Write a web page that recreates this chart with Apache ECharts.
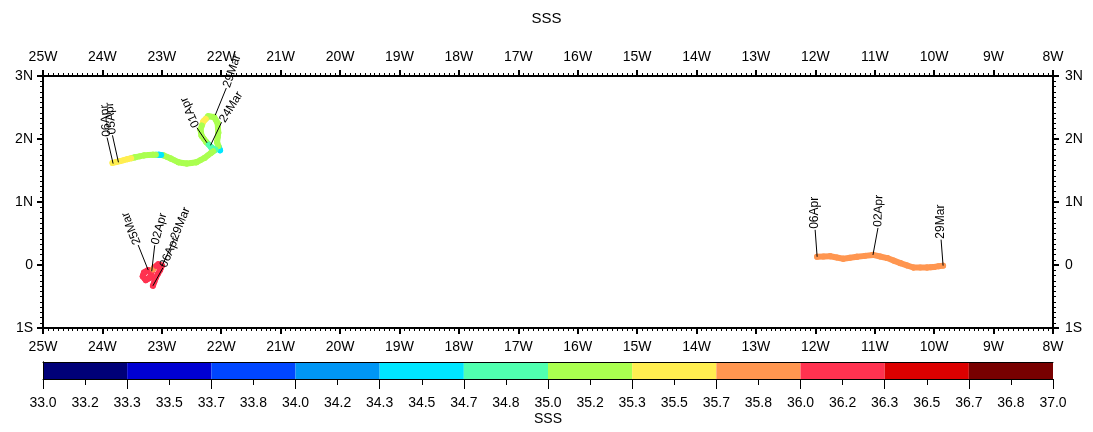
<!DOCTYPE html>
<html>
<head>
<meta charset="utf-8">
<script src="https://cdn.jsdelivr.net/npm/echarts@6/dist/echarts.min.js"></script>
<style>
  html, body { margin: 0; padding: 0; background: #fff; }
  #chart { width: 1093px; height: 432px; }
</style>
</head>
<body>
<div id="chart"></div>
<script>
const FONT = "'Liberation Sans', Arial, sans-serif";

// axis tick labels
const lonLabels = ['25W', '24W', '23W', '22W', '21W', '20W', '19W', '18W', '17W',
  '16W', '15W', '14W', '13W', '12W', '11W', '10W', '9W', '8W'];
const latLabels = ['1S', '0', '1N', '2N', '3N'];

// colour bar
const cbLabels = ['33.0', '33.2', '33.3', '33.5', '33.7', '33.8', '34.0', '34.2', '34.3',
  '34.5', '34.7', '34.8', '35.0', '35.2', '35.3', '35.5', '35.7', '35.8', '36.0', '36.2',
  '36.3', '36.5', '36.7', '36.8', '37.0'];
const cbColors = ['#000078', '#0000d2', '#0046ff', '#0096f5', '#00e6ff', '#50ffb0',
  '#aaff50', '#ffee50', '#ff9650', '#ff3250', '#dc0000', '#780000'];
const sssMin = 33, sssMax = 37;

// drifter near 22-24W, 2N
const trackALon = [-22.02, -22.07, -22.05, -22.06, -22.12, -22.22, -22.30, -22.35, -22.33,
  -22.25, -22.17, -22.10, -22.17, -22.28, -22.42, -22.58, -22.72, -22.85, -22.97, -23.05,
  -23.15, -23.30, -23.45, -23.58, -23.70, -23.83];
const trackALat = [1.82, 1.95, 2.10, 2.25, 2.35, 2.36, 2.28, 2.15, 2.05,
  1.95, 1.87, 1.83, 1.78, 1.70, 1.63, 1.61, 1.63, 1.69, 1.74, 1.75,
  1.75, 1.74, 1.71, 1.68, 1.65, 1.62];
const trackASss = [34.6, 35.1, 35.1, 35.1, 35.1, 35.1, 35.4, 35.1, 35.1,
  35.1, 34.9, 34.8, 35.1, 35.1, 35.1, 35.1, 35.1, 35.1, 35.1, 34.5,
  35.1, 35.1, 35.1, 35.4, 35.4, 35.4];

// drifter near 23W, 0
const trackBLon = [-23.23, -23.30, -23.32, -23.27, -23.20, -23.17, -23.13, -23.06, -23.00,
  -23.03, -23.10, -23.15];
const trackBLat = [-0.08, -0.12, -0.18, -0.24, -0.20, -0.10, -0.04, 0.01, -0.01,
  -0.08, -0.20, -0.33];
const trackBSss = [36.1, 36.1, 36.1, 36.1, 36.1, 36.1, 35.9, 36.1, 36.1,
  36.1, 36.1, 36.1];

// drifter near 10-12W, 0
const trackCLon = [-9.85, -10.00, -10.12, -10.35, -10.57, -10.79, -11.03, -11.30, -11.53,
  -11.75, -11.97];
const trackCLat = [-0.01, -0.03, -0.04, -0.04, 0.03, 0.11, 0.16, 0.13, 0.10, 0.14, 0.13];
const trackCSss = [35.85, 35.85, 35.85, 35.85, 35.85, 35.85, 35.85, 35.85, 35.85, 35.85, 35.85];

// date annotations
const noteText = ['06Apr', '05Apr', '01Apr', '24Mar', '29Mar',
  '25Mar', '02Apr', '06Apr', '29Mar',
  '29Mar', '02Apr', '06Apr'];
const noteLon = [-23.82, -23.73, -22.24, -22.18, -22.10,
  -23.23, -23.17, -23.15, -23.00,
  -9.85, -11.03, -11.97];
const noteLat = [1.61, 1.63, 1.94, 1.90, 2.38,
  -0.08, -0.10, -0.33, -0.02,
  -0.01, 0.16, 0.13];
// leader offset in px and text angle in degrees
const noteLayout = [[-6, -26, 95], [-6, -27, 95], [-10, -15, 114], [11, -23, 58], [11, -27, 71],
  [-10, -25, 112], [3, -26, 75], [10, -18, 67], [12, -26, 68],
  [-2, -26, 90], [5, -27, 88], [-2, -27, 90]];

const zip = (a, b, c) => a.map((v, i) => (c ? [v, b[i], c[i]] : [v, b[i]]));
const step = (sssMax - sssMin) / cbColors.length;
const pieces = cbColors.map((c, i) => ({
  gte: sssMin + i * step, lt: sssMin + (i + 1) * step, color: c,
}));

const mainX = (pos) => ({
  gridIndex: 0, type: 'value', position: pos, min: -25, max: -8, interval: 1,
  axisLine: { onZero: false, lineStyle: { color: '#000', width: 2 } },
  axisTick: { length: 6, lineStyle: { color: '#000', width: 2 } },
  minorTick: { show: true, splitNumber: 12, length: 3, lineStyle: { color: '#000', width: 1 } },
  splitLine: { show: false },
  axisLabel: {
    color: '#000', fontSize: 14, fontFamily: FONT, margin: 12,
    formatter: (v) => lonLabels[Math.round(v + 25)],
  },
});
const mainY = (pos) => ({
  gridIndex: 0, type: 'value', position: pos, min: -1, max: 3, interval: 1,
  axisLine: { onZero: false, lineStyle: { color: '#000', width: 2 } },
  axisTick: { length: 6, lineStyle: { color: '#000', width: 2 } },
  minorTick: { show: true, splitNumber: 12, length: 3, lineStyle: { color: '#000', width: 1 } },
  splitLine: { show: false },
  axisLabel: {
    color: '#000', fontSize: 14, fontFamily: FONT, margin: pos === 'left' ? 10 : 12,
    formatter: (v) => latLabels[Math.round(v + 1)],
  },
});

// each point paints its own dot plus the half-segments to its neighbours,
// in the colour the visualMap gives to its SSS value
const renderTrack = (params, api) => {
  const k = params.dataIndexInside;
  const n = params.dataInsideLength;
  const p = api.coord([api.value(0, k), api.value(1, k)]);
  const color = api.visual('color');
  const children = [];
  [k - 1, k + 1].forEach((j) => {
    if (j < 0 || j >= n) return;
    const q = api.coord([api.value(0, j), api.value(1, j)]);
    children.push({
      type: 'line',
      shape: { x1: p[0], y1: p[1], x2: (p[0] + q[0]) / 2, y2: (p[1] + q[1]) / 2 },
      style: { stroke: color, lineWidth: 6, lineCap: 'round' },
    });
  });
  children.push({ type: 'circle', shape: { cx: p[0], cy: p[1], r: 3 }, style: { fill: color } });
  return { type: 'group', children };
};

const trackSeries = (data) => ({
  type: 'custom', xAxisIndex: 0, yAxisIndex: 0, data,
  encode: { x: 0, y: 1 },
  renderItem: renderTrack,
  z: 3, silent: true,
});

const renderNote = (params, api) => {
  const i = params.dataIndex;
  const p = api.coord([api.value(0), api.value(1)]);
  const [dx, dy, deg] = noteLayout[i];
  const q = [p[0] + dx, p[1] + dy];
  return {
    type: 'group',
    children: [
      { type: 'line', shape: { x1: p[0], y1: p[1], x2: q[0], y2: q[1] },
        style: { stroke: '#000', lineWidth: 1 } },
      { type: 'text', x: q[0], y: q[1], rotation: deg * Math.PI / 180,
        style: { text: noteText[i], x: 1, y: 0, align: 'left', verticalAlign: 'middle',
          fontSize: 12, fontFamily: FONT, fill: '#000' } },
    ],
  };
};

const renderSwatch = (params, api) => {
  const a = api.coord([api.value(0), 1]);
  const b = api.coord([api.value(0) + 1, 0]);
  return {
    type: 'rect',
    shape: { x: a[0], y: a[1], width: b[0] - a[0], height: b[1] - a[1] },
    style: { fill: cbColors[params.dataIndex] },
  };
};

const chart = echarts.init(document.getElementById('chart'));
chart.setOption({
  animation: false,
  backgroundColor: '#fff',
  title: {
    text: 'SSS', left: 'center', top: 6,
    textStyle: { fontSize: 15, fontWeight: 'normal', color: '#000', fontFamily: FONT },
  },
  grid: [
    { left: 43, right: 40, top: 76, height: 252 },
    { left: 43, right: 40, top: 362, height: 17 },
  ],
  visualMap: {
    type: 'piecewise', show: false, dimension: 2, seriesIndex: [0, 1, 2], pieces,
  },
  xAxis: [
    mainX('bottom'),
    mainX('top'),
    {
      gridIndex: 1, type: 'value', position: 'bottom', min: 0, max: cbColors.length, interval: 1,
      axisLine: { lineStyle: { color: '#000', width: 1 } },
      axisTick: { length: 10, lineStyle: { color: '#000', width: 1 } },
      minorTick: { show: true, splitNumber: 2, length: 6, lineStyle: { color: '#000', width: 1 } },
      splitLine: { show: false },
      axisLabel: { show: false },
      name: 'SSS', nameLocation: 'middle', nameGap: 33,
      nameTextStyle: { color: '#000', fontSize: 14, fontFamily: FONT },
      z: 5,
    },
    {
      gridIndex: 1, type: 'value', position: 'bottom', min: 0, max: cbColors.length, interval: 0.5,
      axisLine: { show: false }, axisTick: { show: false }, splitLine: { show: false },
      axisLabel: {
        color: '#000', fontSize: 14, fontFamily: FONT, margin: 17,
        formatter: (v) => cbLabels[Math.round(v * 2)],
      },
    },
    {
      gridIndex: 1, type: 'value', position: 'top', min: 0, max: cbColors.length,
      axisLine: { lineStyle: { color: '#000', width: 1 } },
      axisTick: { show: false }, axisLabel: { show: false }, splitLine: { show: false },
      z: 5,
    },
  ],
  yAxis: [
    mainY('left'),
    mainY('right'),
    {
      gridIndex: 1, type: 'value', position: 'left', min: 0, max: 1,
      axisLine: { show: true, lineStyle: { color: '#000', width: 1 } },
      axisTick: { show: false }, axisLabel: { show: false }, splitLine: { show: false },
      z: 5,
    },
    {
      gridIndex: 1, type: 'value', position: 'right', min: 0, max: 1,
      axisLine: { show: true, lineStyle: { color: '#000', width: 1 } },
      axisTick: { show: false }, axisLabel: { show: false }, splitLine: { show: false },
      z: 5,
    },
  ],
  series: [
    trackSeries(zip(trackALon, trackALat, trackASss)),
    trackSeries(zip(trackBLon, trackBLat, trackBSss)),
    trackSeries(zip(trackCLon, trackCLat, trackCSss)),
    {
      type: 'custom', xAxisIndex: 0, yAxisIndex: 0, clip: false, z: 4, silent: true,
      data: zip(noteLon, noteLat),
      renderItem: renderNote,
    },
    {
      type: 'custom', xAxisIndex: 2, yAxisIndex: 2, silent: true,
      data: cbColors.map((c, i) => [i, 0]),
      renderItem: renderSwatch,
    },
  ],
});
</script>
</body>
</html>
